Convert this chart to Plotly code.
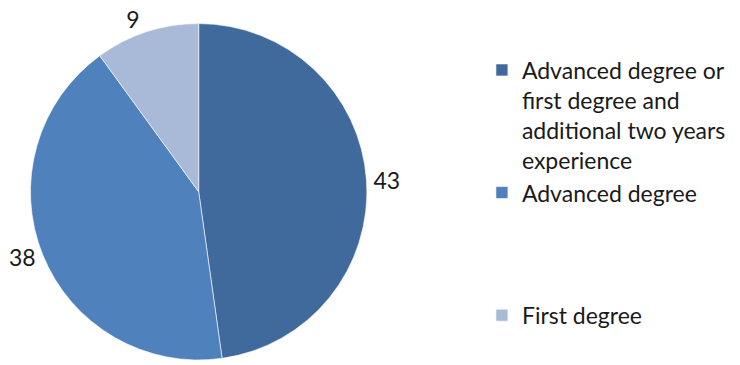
import plotly.graph_objects as go

categories = ["Advanced degree or<br>first degree and<br>additional two years<br>experience",
              "Advanced degree<br> <br> <br> ", "First degree"]
values = [43, 38, 9]
colors = ["#406A9C", "#4F81BD", "#A9B9D8"]

fig = go.Figure(go.Pie(
    labels=categories, values=values, sort=False, direction="clockwise", rotation=0,
    marker=dict(colors=colors, line=dict(color="rgba(255,255,255,0.6)", width=1)),
    textinfo="value", textposition="outside",
    textfont=dict(family="Lato", size=23, color="#1a1a1a"),
    domain=dict(x=[15/740, 363/740], y=[0, 0.945]),
    hoverinfo="value",
))
fig.update_layout(
    width=740, height=365, margin=dict(l=0, r=0, t=0, b=0),
    paper_bgcolor="white", plot_bgcolor="white",
    showlegend=True,
    legend=dict(x=0.645, y=0.875, xanchor="left", yanchor="top", valign="top",
                font=dict(family="Lato", size=23, color="#1a1a1a"),
                itemwidth=30, tracegroupgap=0),
)
fig.write_html("out.html")
